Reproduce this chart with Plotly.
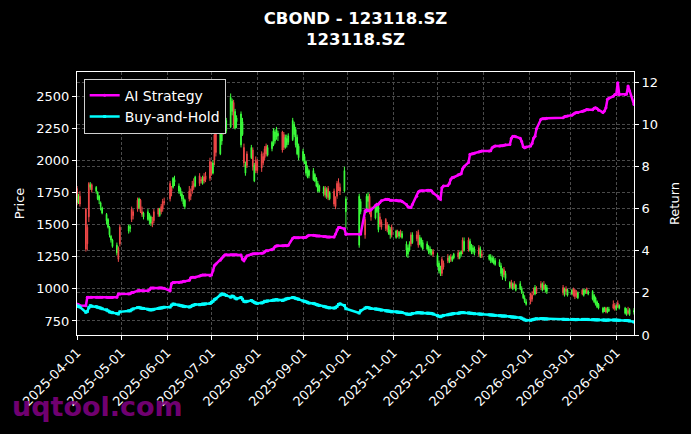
import pandas as pd
import plotly.graph_objects as go

# ---------------- data ----------------
holidays = ["2025-04-04", "2025-05-01", "2025-05-02", "2025-05-05", "2025-06-02",
            "2025-10-01", "2025-10-02", "2025-10-03", "2025-10-06", "2025-10-07", "2025-10-08",
            "2026-01-01", "2026-01-02", "2026-02-16", "2026-02-17", "2026-02-18", "2026-02-19",
            "2026-02-20", "2026-02-23", "2026-04-06"]
start_date = "2025-04-01"
end_date = "2026-04-13"

opens = [
    1780, 1670, 1720, 1620, 1480, 1820, 1790, 1810, 1760, 1700, 1690, 1640, 1590, 1530, 1480, 1420, 1380, 1330, 1280, 1320, 1480,
    1450, 1470, 1620, 1600, 1690, 1630, 1690, 1600, 1560, 1540, 1530, 1510, 1520, 1600, 1620, 1570, 1640, 1680, 1680,
    1820, 1780, 1790, 1830, 1760, 1740, 1700, 1660, 1640, 1760, 1740, 1800, 1820, 1800, 1880, 1850, 1820, 1870, 1880, 1990,
    1950, 1900, 2200, 2240, 2050, 2150, 2350, 2330, 2230, 2260, 2380, 2450, 2250, 2300, 2120, 2200, 2100, 1900, 2050, 2020, 2080, 1840, 2000,
    1990, 2050, 2030, 2090, 2110, 2040, 2090, 2120, 2150, 2180, 2190, 2220, 2200, 2100, 2120, 2140, 2160, 2200, 2120, 2050, 2020,
    2000, 1980, 1900, 1870, 1880, 1850, 1840, 1800, 1760, 1760, 1740, 1780, 1720, 1780, 1700, 1760, 1700, 1820, 1830, 1790, 1760, 1600,
    1340, 1600, 1540, 1600, 1680, 1720, 1610, 1550, 1600, 1460, 1560, 1520, 1540, 1500, 1430, 1420, 1480,
    1400, 1450, 1410, 1440, 1400, 1300, 1270, 1300, 1420, 1360, 1420, 1440, 1350, 1330, 1310, 1310, 1290, 1280, 1270, 1290,
    1180, 1140, 1120, 1230, 1200, 1240, 1210, 1250, 1220, 1240, 1280, 1240, 1270, 1380, 1300, 1380, 1300, 1310, 1290, 1280, 1320, 1250, 1270,
    1230, 1220, 1210, 1200, 1190, 1180, 1120, 1090, 1150, 1080, 1010, 1050, 1000, 1040, 990, 1000, 970, 930, 900, 880,
    960, 950, 980, 960, 1000, 1040, 990, 1030, 990, 980, 1010, 960, 1000, 950,
    960, 1000, 990, 970, 930, 990, 950, 970, 1000, 960, 920, 900, 880, 860, 850, 820, 830, 850, 820, 830, 880, 870,
    840, 890, 850, 810, 800, 830, 800, 820,
]
highs = [
    1800, 1740, 1760, 1630, 1500, 1830, 1830, 1820, 1800, 1760, 1730, 1680, 1640, 1590, 1550, 1490, 1420, 1390, 1360, 1330, 1500,
    1500, 1500, 1640, 1620, 1710, 1710, 1700, 1640, 1600, 1620, 1590, 1570, 1560, 1620, 1630, 1630, 1660, 1700, 1710,
    1840, 1800, 1870, 1880, 1820, 1790, 1760, 1730, 1700, 1800, 1780, 1840, 1860, 1880, 1900, 1870, 1880, 1900, 1910, 2020,
    1990, 2000, 2240, 2260, 2300, 2260, 2370, 2350, 2330, 2520, 2480, 2470, 2400, 2350, 2380, 2330, 2130, 1990, 2070, 2120, 2100, 1980, 2030,
    2010, 2070, 2060, 2110, 2130, 2120, 2150, 2250, 2240, 2260, 2230, 2230, 2220, 2200, 2200, 2210, 2330, 2300, 2260, 2200, 2130,
    2090, 2050, 2000, 1960, 1930, 1940, 1900, 1870, 1840, 1810, 1800, 1800, 1790, 1800, 1760, 1780, 1720, 1840, 1860, 1820, 1950, 1720,
    1740, 1700, 1560, 1740, 1750, 1740, 1640, 1640, 1670, 1660, 1590, 1540, 1550, 1520, 1500, 1480, 1500,
    1460, 1460, 1450, 1460, 1450, 1370, 1340, 1370, 1440, 1440, 1450, 1460, 1420, 1400, 1380, 1370, 1340, 1330, 1310, 1310,
    1280, 1220, 1180, 1250, 1220, 1270, 1260, 1270, 1260, 1280, 1300, 1290, 1300, 1400, 1400, 1400, 1390, 1350, 1340, 1330, 1340, 1330, 1300,
    1270, 1270, 1260, 1250, 1240, 1230, 1200, 1160, 1170, 1140, 1060, 1070, 1050, 1060, 1040, 1060, 1020, 980, 950, 920,
    970, 980, 1010, 1030, 1020, 1060, 1050, 1060, 1040, 1030, 1030, 1010, 1020, 1000,
    1000, 1010, 1000, 990, 980, 1000, 1000, 1000, 1010, 990, 990, 960, 940, 910, 890, 860, 860, 860, 860, 860, 910, 890,
    880, 910, 880, 860, 850, 860, 850, 850,
]
lows = [
    1650, 1660, 1640, 1290, 1300, 1520, 1770, 1750, 1740, 1690, 1660, 1610, 1580, 1500, 1470, 1400, 1360, 1320, 1260, 1210, 1330,
    1430, 1440, 1520, 1540, 1600, 1620, 1590, 1560, 1540, 1530, 1500, 1490, 1480, 1510, 1560, 1560, 1580, 1600, 1650,
    1680, 1720, 1780, 1800, 1740, 1720, 1680, 1640, 1620, 1680, 1690, 1740, 1770, 1790, 1800, 1820, 1810, 1820, 1830, 1840,
    1880, 1890, 1960, 2030, 2040, 2120, 2200, 2250, 2210, 2250, 2350, 2250, 2240, 2250, 2100, 2190, 1950, 1880, 1940, 2010, 1920, 1830, 1900,
    1900, 1910, 1960, 2000, 2030, 2030, 2070, 2110, 2130, 2160, 2150, 2060, 2080, 2090, 2100, 2120, 2150, 2180, 2100, 2040, 2000,
    1990, 1970, 1880, 1860, 1860, 1840, 1830, 1790, 1750, 1750, 1720, 1710, 1700, 1690, 1690, 1640, 1620, 1700, 1760, 1730, 1750, 1470,
    1320, 1580, 1390, 1590, 1600, 1580, 1530, 1540, 1590, 1440, 1480, 1460, 1450, 1440, 1420, 1390, 1400,
    1390, 1400, 1390, 1400, 1390, 1250, 1240, 1290, 1330, 1350, 1370, 1320, 1340, 1320, 1300, 1300, 1270, 1260, 1260, 1250,
    1170, 1120, 1100, 1100, 1150, 1200, 1200, 1210, 1210, 1230, 1230, 1230, 1250, 1270, 1290, 1290, 1290, 1270, 1270, 1260, 1250, 1240, 1240,
    1220, 1200, 1200, 1190, 1180, 1170, 1100, 1070, 1090, 1060, 1000, 1000, 990, 1000, 980, 990, 960, 920, 890, 870,
    880, 900, 950, 950, 960, 990, 980, 990, 970, 960, 950, 940, 950, 940,
    950, 940, 920, 930, 920, 950, 940, 960, 960, 950, 910, 890, 870, 850, 840, 810, 820, 810, 810, 820, 840, 830,
    830, 850, 840, 800, 790, 800, 790, 800,
]
closes = [
    1670, 1720, 1660, 1310, 1350, 1560, 1810, 1770, 1790, 1750, 1720, 1670, 1630, 1580, 1540, 1480, 1410, 1380, 1340, 1230, 1350,
    1490, 1480, 1540, 1570, 1620, 1700, 1600, 1580, 1590, 1600, 1580, 1560, 1500, 1530, 1580, 1620, 1600, 1620, 1670,
    1700, 1760, 1860, 1850, 1800, 1780, 1740, 1710, 1690, 1700, 1720, 1760, 1790, 1870, 1820, 1840, 1860, 1840, 1850, 1860,
    1900, 1980, 2000, 2060, 2280, 2240, 2230, 2270, 2310, 2490, 2460, 2280, 2380, 2330, 2360, 2300, 1980, 1970, 1960, 2100, 1950, 1960, 1920,
    1920, 1940, 1980, 2020, 2050, 2100, 2140, 2230, 2220, 2240, 2210, 2080, 2100, 2180, 2170, 2190, 2310, 2280, 2240, 2180, 2110,
    2070, 2030, 1990, 1940, 1920, 1920, 1890, 1860, 1820, 1800, 1790, 1730, 1770, 1710, 1750, 1660, 1640, 1720, 1780, 1760, 1920, 1700,
    1720, 1680, 1420, 1720, 1720, 1600, 1560, 1620, 1650, 1640, 1500, 1480, 1470, 1460, 1490, 1460, 1420,
    1450, 1410, 1440, 1420, 1430, 1350, 1320, 1350, 1350, 1420, 1390, 1340, 1400, 1390, 1360, 1350, 1330, 1310, 1300, 1270,
    1260, 1200, 1160, 1120, 1170, 1220, 1250, 1230, 1250, 1270, 1250, 1280, 1290, 1290, 1370, 1310, 1370, 1340, 1320, 1310, 1270, 1310, 1260,
    1260, 1250, 1240, 1230, 1220, 1210, 1180, 1140, 1110, 1120, 1050, 1020, 1040, 1010, 1030, 1040, 1000, 960, 930, 900,
    900, 920, 970, 1010, 980, 1010, 1040, 1000, 1030, 1010, 970, 1000, 980, 990,
    990, 950, 940, 950, 970, 960, 990, 990, 970, 980, 980, 950, 930, 900, 880, 850, 850, 820, 850, 840, 850, 850,
    870, 860, 870, 850, 840, 810, 840, 830,
]
ai_strategy = [
    1.47, 1.45, 1.40, 1.39, 1.79, 1.79, 1.80, 1.80, 1.80, 1.80, 1.79, 1.79, 1.79, 1.79, 1.78, 1.78, 1.78, 1.78, 1.79, 1.95, 1.95,
    1.95, 1.96, 2.02, 2.02, 2.10, 2.12, 2.10, 2.10, 2.10, 2.10, 2.15, 2.23, 2.23, 2.23, 2.23, 2.24, 2.24, 2.23, 2.22,
    2.10, 2.45, 2.50, 2.50, 2.50, 2.52, 2.52, 2.55, 2.55, 2.60, 2.72, 2.74, 2.74, 2.75, 2.80, 2.84, 2.85, 2.85, 2.85, 2.82,
    2.85, 3.05, 3.30, 3.37, 3.55, 3.65, 3.73, 3.80, 3.81, 3.81, 3.81, 3.82, 3.81, 3.81, 3.80, 3.60, 3.53, 3.65, 3.76, 3.84, 3.86, 3.86, 3.86,
    3.86, 3.88, 3.90, 3.95, 4.00, 4.00, 4.05, 4.10, 4.20, 4.24, 4.24, 4.24, 4.24, 4.25, 4.24, 4.26, 4.60, 4.63, 4.62, 4.62, 4.62,
    4.62, 4.63, 4.65, 4.70, 4.74, 4.74, 4.73, 4.70, 4.70, 4.70, 4.68, 4.68, 4.66, 4.66, 4.66, 4.66, 4.80, 5.00, 5.11, 5.11, 5.05, 4.79,
    4.79, 4.80, 5.90, 5.95, 5.90, 5.92, 5.95, 6.15, 6.21, 6.21, 6.30, 6.38, 6.45, 6.45, 6.44, 6.40, 6.40,
    6.40, 6.38, 6.37, 6.38, 6.35, 6.20, 6.10, 6.06, 6.06, 6.20, 6.60, 6.80, 6.85, 6.86, 6.86, 6.88, 6.88, 6.88, 6.85, 6.75,
    6.60, 6.50, 6.45, 7.00, 7.08, 7.10, 7.20, 7.40, 7.48, 7.50, 7.62, 7.64, 7.66, 7.90, 8.00, 8.20, 8.59, 8.60, 8.62, 8.64, 8.70, 8.72, 8.74,
    8.74, 8.76, 8.90, 8.95, 8.98, 8.98, 8.99, 9.00, 9.02, 9.04, 9.06, 9.35, 9.45, 9.45, 9.42, 9.35, 9.20, 8.95, 8.90, 8.93,
    8.98, 9.10, 9.35, 9.45, 9.80, 10.25, 10.28, 10.28, 10.28, 10.30, 10.32, 10.38, 10.40, 10.41,
    10.45, 10.50, 10.55, 10.57, 10.57, 10.62, 10.65, 10.68, 10.72, 10.70, 10.70, 10.78, 10.80, 10.76, 10.68, 10.57, 10.65, 10.80, 11.20, 11.25, 11.35, 11.43,
    11.43, 11.99, 11.43, 11.43, 11.45, 11.83, 11.60, 10.96,
]
buy_and_hold = [
    1.39, 1.36, 1.33, 1.08, 1.12, 1.30, 1.39, 1.37, 1.35, 1.32, 1.30, 1.28, 1.25, 1.20, 1.15, 1.10, 1.08, 1.06, 1.02, 1.00, 1.10,
    1.15, 1.15, 1.20, 1.24, 1.30, 1.31, 1.28, 1.27, 1.26, 1.22, 1.20, 1.19, 1.20, 1.22, 1.26, 1.28, 1.28, 1.30, 1.32,
    1.33, 1.42, 1.47, 1.46, 1.42, 1.40, 1.38, 1.36, 1.35, 1.33, 1.35, 1.40, 1.42, 1.45, 1.44, 1.45, 1.47, 1.46, 1.48, 1.50,
    1.55, 1.60, 1.68, 1.72, 1.90, 1.95, 1.93, 1.92, 1.88, 1.80, 1.85, 1.82, 1.75, 1.72, 1.78, 1.70, 1.60, 1.58, 1.60, 1.64, 1.60, 1.55, 1.52,
    1.50, 1.52, 1.55, 1.60, 1.60, 1.62, 1.64, 1.66, 1.66, 1.68, 1.66, 1.64, 1.66, 1.70, 1.72, 1.74, 1.78, 1.77, 1.74, 1.72, 1.70,
    1.62, 1.60, 1.58, 1.55, 1.52, 1.50, 1.48, 1.45, 1.42, 1.40, 1.36, 1.34, 1.32, 1.30, 1.29, 1.28, 1.30, 1.36, 1.45, 1.48, 1.40, 1.25,
    1.05, 1.15, 1.28, 1.31, 1.30, 1.28, 1.26, 1.24, 1.23, 1.22, 1.20, 1.18, 1.15, 1.14, 1.13, 1.12, 1.10,
    1.10, 1.09, 1.08, 1.08, 1.07, 1.00, 0.99, 0.98, 0.99, 1.02, 1.06, 1.07, 1.06, 1.05, 1.05, 1.04, 1.03, 1.03, 1.02, 1.00,
    0.92, 0.89, 0.87, 0.90, 0.93, 0.96, 0.98, 0.99, 1.00, 1.02, 1.03, 1.05, 1.06, 1.07, 1.06, 1.05, 1.04, 1.03, 1.02, 1.01, 1.00, 0.99, 0.99,
    0.96, 0.95, 0.95, 0.94, 0.93, 0.92, 0.91, 0.90, 0.90, 0.90, 0.88, 0.86, 0.86, 0.85, 0.84, 0.82, 0.80, 0.76, 0.72, 0.70,
    0.70, 0.72, 0.74, 0.76, 0.77, 0.78, 0.78, 0.77, 0.76, 0.76, 0.75, 0.74, 0.74, 0.74,
    0.74, 0.74, 0.73, 0.73, 0.74, 0.74, 0.74, 0.74, 0.74, 0.74, 0.73, 0.73, 0.72, 0.72, 0.72, 0.71, 0.71, 0.70, 0.71, 0.71, 0.71, 0.71,
    0.71, 0.70, 0.70, 0.69, 0.69, 0.68, 0.67, 0.62,
]
price_ticks = [750, 1000, 1250, 1500, 1750, 2000, 2250, 2500]
return_ticks = [0, 2, 4, 6, 8, 10, 12]

dates = [d for d in pd.bdate_range(start_date, end_date) if d.strftime("%Y-%m-%d") not in holidays]
n = len(dates)
assert n == len(opens) == len(highs) == len(lows) == len(closes) == len(ai_strategy) == len(buy_and_hold), \
    (n, len(opens), len(highs), len(lows), len(closes), len(ai_strategy), len(buy_and_hold))

# ---------------- figure ----------------
UP = "#3cff3c"
DOWN = "#f04848"
GRID = "#4a4a4a"
FONT = "DejaVu Sans"

fig = go.Figure()
fig.add_trace(go.Candlestick(
    x=dates, open=opens, high=highs, low=lows, close=closes,
    increasing=dict(line=dict(color=UP, width=1), fillcolor=UP),
    decreasing=dict(line=dict(color=DOWN, width=1), fillcolor=DOWN),
    whiskerwidth=0, showlegend=False, yaxis="y",
))
fig.add_trace(go.Scatter(
    x=dates, y=ai_strategy, name="AI Strategy", mode="lines+markers",
    line=dict(color="#ff00ff", width=2.5), marker=dict(size=3, color="#ff00ff"),
    yaxis="y2",
))
fig.add_trace(go.Scatter(
    x=dates, y=buy_and_hold, name="Buy-and-Hold", mode="lines+markers",
    line=dict(color="#00ffff", width=2.5), marker=dict(size=3, color="#00ffff", symbol="square"),
    yaxis="y2",
))

axis_common = dict(
    showline=True, linecolor="white", linewidth=1, mirror=True,
    ticks="outside", ticklen=4, tickcolor="white", tickwidth=1,
    showgrid=True, gridcolor=GRID, gridwidth=0.6, griddash="3px,2px",
    zeroline=False, tickfont=dict(size=13, color="white", family=FONT),
)

fig.update_layout(
    width=691, height=434, autosize=False,
    margin=dict(l=77, r=57, t=72, b=99, pad=0),
    paper_bgcolor="black", plot_bgcolor="black",
    font=dict(family=FONT, size=13, color="white"),
    title=dict(
        text="<b>CBOND - 123118.SZ</b><br><b>123118.SZ</b>",
        x=0.5, xanchor="center", xref="paper",
        y=1 - 24 / 434, yanchor="middle", yref="container",
        font=dict(size=16.5, color="white", family=FONT),
    ),
    xaxis=dict(
        type="date", range=[dates[0], dates[-1]],
        tickformat="%Y-%m-%d", dtick="M1", tick0=start_date, tickangle=-45,
        rangeslider=dict(visible=False),
        **axis_common,
    ),
    yaxis=dict(
        range=[641, 2687], tickvals=price_ticks,
        title=dict(text="Price", font=dict(size=13, color="white"), standoff=8),
        **axis_common,
    ),
    yaxis2=dict(
        range=[0, 12.5], tickvals=return_ticks, overlaying="y", side="right",
        title=dict(text="Return", font=dict(size=13, color="white"), standoff=12),
        **axis_common,
    ),
    legend=dict(
        x=0.012, y=0.975, xanchor="left", yanchor="top",
        bgcolor="black", bordercolor="#d0d0d0", borderwidth=1,
        font=dict(size=14, color="white", family=FONT),
        itemwidth=30, tracegroupgap=0,
    ),
    showlegend=True,
    annotations=[dict(
        text="<b>uqtool.com</b>", xref="paper", yref="paper",
        x=0.0368, y=-0.272, xanchor="center", yanchor="middle",
        showarrow=False, font=dict(size=27, color="rgba(128,0,128,0.9)", family=FONT),
    )],
)

fig.write_html("out.html")
